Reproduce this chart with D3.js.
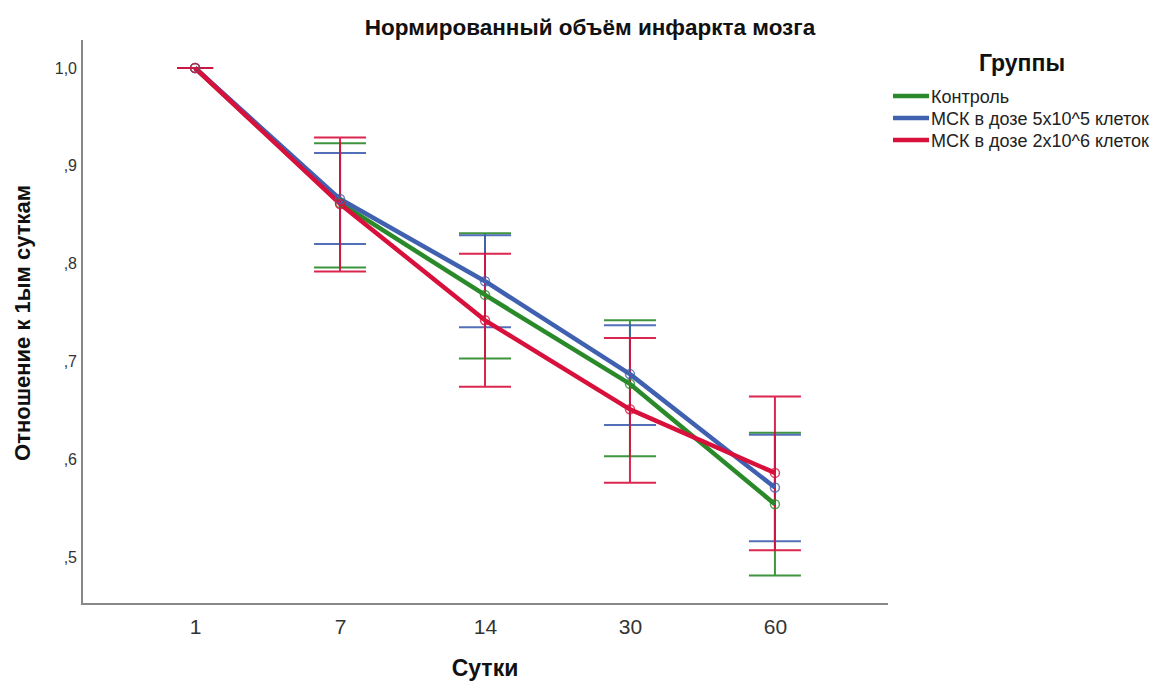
<!DOCTYPE html>
<html>
<head>
<meta charset="utf-8">
<script src="https://cdn.jsdelivr.net/npm/d3@7"></script>
<style>
  body { margin: 0; background: #fff; }
  svg { display: block; font-family: "Liberation Sans", Arial, sans-serif; }
</style>
</head>
<body>
<svg id="chart" width="1157" height="684"></svg>
<script>
// Days of observation (categorical x axis)
const days = ["1", "7", "14", "30", "60"];
const groupNames = ["Контроль", "МСК в дозе 5x10^5 клеток", "МСК в дозе 2x10^6 клеток"];
const groupColors = ["#2a8a2a", "#4060b0", "#d8103c"];

// Mean ratio to day 1, per group
const meanControl = [1.0, 0.862, 0.768, 0.677, 0.554];
const meanLow     = [1.0, 0.866, 0.782, 0.687, 0.571];
const meanHigh    = [1.0, 0.861, 0.742, 0.651, 0.586];

// Error bar bounds, per group
const upperControl = [1.0, 0.923, 0.831, 0.742, 0.627];
const lowerControl = [1.0, 0.796, 0.703, 0.603, 0.481];
const upperLow     = [1.0, 0.913, 0.829, 0.737, 0.625];
const lowerLow     = [1.0, 0.820, 0.735, 0.635, 0.516];
const upperHigh    = [1.0, 0.929, 0.810, 0.724, 0.664];
const lowerHigh    = [1.0, 0.792, 0.674, 0.576, 0.507];

const yTicks = [0.5, 0.6, 0.7, 0.8, 0.9, 1.0];

const groups = [
  { name: groupNames[0], color: groupColors[0], mean: meanControl, upper: upperControl, lower: lowerControl },
  { name: groupNames[1], color: groupColors[1], mean: meanLow, upper: upperLow, lower: lowerLow },
  { name: groupNames[2], color: groupColors[2], mean: meanHigh, upper: upperHigh, lower: lowerHigh }
];

const svg = d3.select("#chart");
const plot = { left: 82, right: 888, top: 40, bottom: 604 };

const x = d3.scalePoint().domain(days).range([plot.left, plot.right]).padding(0.78);
// 1.0 sits at y=68, 0.5 at y=557
const y = d3.scaleLinear().domain([0.5, 1.0]).range([557, 68]);

const fmt = v => v === 1 ? "1,0" : d3.format(".1f")(v).replace(/^0\./, ",");

// Y axis
const yAxis = svg.append("g")
  .attr("transform", `translate(${plot.left},0)`)
  .call(d3.axisLeft(y).tickValues(yTicks).tickSize(0).tickPadding(5).tickFormat(fmt));
yAxis.select(".domain").remove();
yAxis.selectAll("text").attr("font-size", 16).attr("fill", "#333")
  .attr("font-family", "Liberation Sans, Arial, sans-serif");

// X axis
const xAxis = svg.append("g")
  .attr("transform", `translate(0,${plot.bottom})`)
  .call(d3.axisBottom(x).tickSize(0).tickPadding(15));
xAxis.select(".domain").remove();
xAxis.selectAll("text").attr("font-size", 21).attr("fill", "#333")
  .attr("font-family", "Liberation Sans, Arial, sans-serif");

// Axis frame lines
svg.append("path")
  .attr("d", `M${plot.left},${plot.top}V${plot.bottom}H${plot.right}`)
  .attr("fill", "none").attr("stroke", "#888").attr("stroke-width", 2);

// Error bars
const capHalf = (d, i) => i === 0 ? 18 : 26;
groups.forEach(g => {
  const eg = svg.append("g").attr("stroke", g.color).attr("stroke-width", 2).attr("fill", "none").attr("opacity", 0.9);
  days.forEach((d, i) => {
    const cx = x(d);
    const h = capHalf(d, i);
    eg.append("line").attr("x1", cx).attr("x2", cx).attr("y1", y(g.upper[i])).attr("y2", y(g.lower[i]));
    eg.append("line").attr("x1", cx - h).attr("x2", cx + h).attr("y1", y(g.upper[i])).attr("y2", y(g.upper[i]));
    eg.append("line").attr("x1", cx - h).attr("x2", cx + h).attr("y1", y(g.lower[i])).attr("y2", y(g.lower[i]));
  });
});

// Mean lines
const line = d3.line().x((v, i) => x(days[i])).y(v => y(v));
groups.forEach(g => {
  svg.append("path")
    .datum(g.mean)
    .attr("d", line)
    .attr("fill", "none")
    .attr("stroke", g.color)
    .attr("stroke-width", 4.5)
    .attr("stroke-linejoin", "round");
});

// Point markers
groups.forEach(g => {
  svg.append("g").selectAll("circle")
    .data(g.mean)
    .join("circle")
    .attr("cx", (v, i) => x(days[i]))
    .attr("cy", v => y(v))
    .attr("r", 4.5)
    .attr("fill", "none")
    .attr("stroke", g.color)
    .attr("stroke-width", 1.5)
    .attr("opacity", 0.8);
});

// Title and axis titles
svg.append("text")
  .attr("x", 590).attr("y", 35)
  .attr("text-anchor", "middle")
  .attr("font-size", 22.5).attr("font-weight", "bold").attr("fill", "#111")
  .text("Нормированный объём инфаркта мозга");

svg.append("text")
  .attr("transform", "translate(30,323) rotate(-90)")
  .attr("text-anchor", "middle")
  .attr("font-size", 22).attr("font-weight", "bold").attr("fill", "#111")
  .text("Отношение к 1ым суткам");

svg.append("text")
  .attr("x", 485).attr("y", 676)
  .attr("text-anchor", "middle")
  .attr("font-size", 23).attr("font-weight", "bold").attr("fill", "#111")
  .text("Сутки");

// Legend
const legend = svg.append("g");
legend.append("text")
  .attr("x", 1022).attr("y", 71)
  .attr("text-anchor", "middle")
  .attr("font-size", 23).attr("font-weight", "bold").attr("fill", "#111")
  .text("Группы");

const legendY = [96, 118, 140];
groups.forEach((g, i) => {
  legend.append("line")
    .attr("x1", 893).attr("x2", 929)
    .attr("y1", legendY[i]).attr("y2", legendY[i])
    .attr("stroke", g.color).attr("stroke-width", 4.5);
  legend.append("text")
    .attr("x", 931).attr("y", legendY[i] + 7)
    .attr("font-size", 18).attr("fill", "#222")
    .text(g.name);
});
</script>
</body>
</html>
